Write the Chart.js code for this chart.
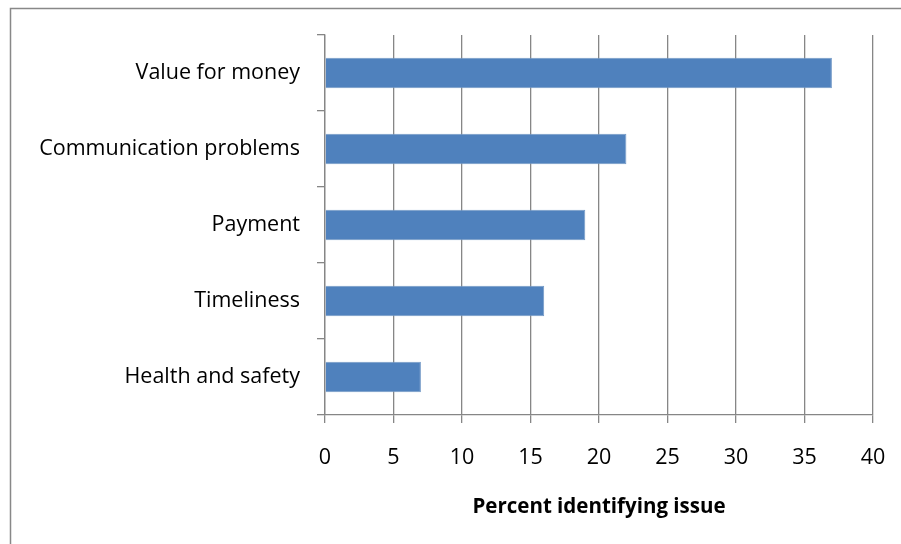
<!DOCTYPE html>
<html><head><meta charset="utf-8">
<script src="https://cdn.jsdelivr.net/npm/chart.js@4/dist/chart.umd.min.js"></script>
<style>html,body{margin:0;padding:0;background:#fff}#wrap{width:901px;height:544px;position:relative}</style>
</head><body><div id="wrap"><canvas id="c" width="901" height="544"></canvas></div>
<script>
const categories = ["Value for money","Communication problems","Payment","Timeliness","Health and safety"];
const values = [37,22,19,16,7];
const xTitle = "Percent identifying issue";
const xMin = 0, xMax = 40, xStep = 5;

const FONT = "'Open Sans', sans-serif";
const frame = {
  id:'frame',
  beforeDraw(chart){
    const ctx = chart.ctx;
    ctx.save();
    ctx.strokeStyle = '#888';
    ctx.lineWidth = 1.5;
    ctx.beginPath();
    ctx.moveTo(10.5, 560); ctx.lineTo(10.5, 8.5); ctx.lineTo(920, 8.5);
    ctx.stroke();
    ctx.restore();
  }
};
new Chart(document.getElementById('c'), {
  type:'bar',
  data:{labels:categories, datasets:[{data:values, backgroundColor:'#4F81BD', borderColor:'#7399C6', borderWidth:1, barPercentage:0.4, categoryPercentage:1}]},
  options:{
    indexAxis:'y', responsive:false, animation:false,
    layout:{padding:{top:35,right:28,left:0,bottom:0}},
    plugins:{legend:{display:false}, tooltip:{enabled:false}},
    scales:{
      x:{min:xMin,max:xMax,
        ticks:{stepSize:xStep,color:'#000',font:{family:FONT,size:21.5},padding:22},
        grid:{color:'#868686',lineWidth:1.3,tickLength:8,drawTicks:true},
        border:{color:'#868686',width:1.3},
        title:{display:true,text:xTitle,color:'#000',font:{family:FONT,size:20.5,weight:'bold'},padding:{top:10,bottom:25}},
        afterFit(s){s.height = 544-415; s.paddingRight = 0; s.paddingLeft = 0;}
      },
      y:{
        ticks:{color:'#000',font:{family:FONT,size:21.5},padding:17},
        grid:{drawOnChartArea:false,color:'#868686',lineWidth:1.3,tickLength:8,offset:true},
        border:{color:'#868686',width:1.3},
        afterFit(s){s.width = 325;}
      }
    }
  },
  plugins:[frame]
});
</script></body></html>
